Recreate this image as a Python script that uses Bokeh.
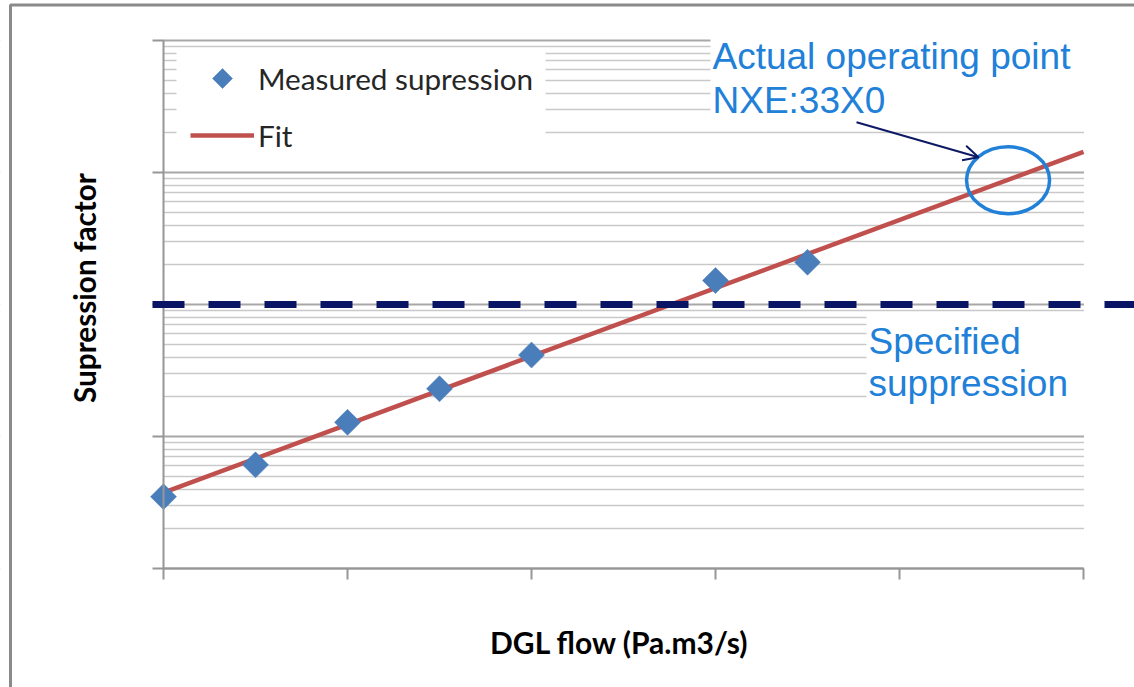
import math
from bokeh.plotting import figure
from bokeh.models import (ColumnDataSource, FixedTicker, Legend, LegendItem, Label,
                          Arrow, OpenHead, BoxAnnotation, Range1d)
from bokeh.embed import file_html
from bokeh.resources import INLINE

# ---------------- data ----------------
flow = [0, 0.5, 1, 1.5, 2, 3, 3.5]                    # DGL flow, tick units
suppression = [3.5, 6.1, 12.8, 23.0, 41.4, 152, 209]  # measured suppression factor
fit_flow = [0, 5]
fit_supp = [3.76, 1435]
spec_level = 100                                      # specified suppression
oper_flow = [4.59]                                    # actual operating point
oper_supp = [873]
x_ticks = [0, 1, 2, 3, 4, 5]
y_ticks = [1, 10, 100, 1000, 10000]
y_minor = [m * d for d in [1, 10, 100, 1000] for m in range(2, 10)]

# ---------------- geometry: the frame fills the whole canvas ----------------
W, H = 1134, 687
X0_PX, PX_PER_UNIT = 163, 184        # x=0 at page px 163, one tick unit = 184 px
Y0_PX, PX_PER_DEC = 568, 132         # y=1 at page px 568, one decade = 132 px

def xd(px):                          # page px -> x data
    return (px - X0_PX) / PX_PER_UNIT
def yd(py):                          # page px -> y data (log)
    return 10 ** ((Y0_PX - py) / PX_PER_DEC)
def sx(px):                          # page px -> frame screen units
    return px
def sy(py):
    return H - py

p = figure(width=W, height=H, output_backend="svg", toolbar_location=None,
           y_axis_type="log",
           x_range=Range1d(xd(0), xd(W)), y_range=Range1d(yd(H), yd(0)),
           min_border=0, min_border_left=0, min_border_right=0,
           min_border_top=0, min_border_bottom=0, title=None)
p.outline_line_color = None
p.background_fill_color = "white"
p.border_fill_color = "white"

# axes placed at fixed positions inside the frame
p.xaxis.fixed_location = 1
p.yaxis.fixed_location = 0
p.xaxis.bounds = (0, 5)
p.yaxis.bounds = (1, 10000)
for ax in (p.xaxis, p.yaxis):
    ax.axis_line_color = "#969696"
    ax.axis_line_width = 2
    ax.major_tick_line_color = "#969696"
    ax.major_tick_line_width = 2
    ax.major_tick_out = 11
    ax.major_tick_in = 0
    ax.minor_tick_line_color = None
    ax.major_label_text_color = None
    ax.major_label_text_font_size = "2px"
    ax.major_label_standoff = 0
p.xaxis.ticker = FixedTicker(ticks=x_ticks)
p.yaxis.ticker = FixedTicker(ticks=y_ticks, minor_ticks=y_minor)

# grids
p.xgrid.grid_line_color = None
p.ygrid.grid_line_color = "#a8a8a8"
p.ygrid.grid_line_width = 2
p.ygrid.minor_grid_line_color = "#c9c9c9"
p.ygrid.minor_grid_line_width = 1.5

# white cover boxes (hide grid lines outside the plot area and behind text blocks)
covers = [(-20, 162.5, -20, 720),      # left of the y axis
          (1083.5, 1160, -20, 720),    # right of the last tick
          (710, 1095, 33, 122),        # "Actual operating point" block
          (866, 1095, 313, 410),       # "Specified suppression" block
          (176, 545, 48, 169)]         # legend box
for (l, r, t, b) in covers:
    p.add_layout(BoxAnnotation(left=sx(l), right=sx(r), top=sy(t), bottom=sy(b),
                               left_units="screen", right_units="screen",
                               top_units="screen", bottom_units="screen",
                               fill_color="white", fill_alpha=1, line_color=None,
                               level="underlay"))

# fit line and points
fit_src = ColumnDataSource(dict(x=fit_flow, y=fit_supp))
pts_src = ColumnDataSource(dict(x=flow, y=suppression))
fit_r = p.line("x", "y", source=fit_src, line_color="#c0504d", line_width=4.5)
try:
    pts_r = p.ngon("x", "y", source=pts_src, radius=13, radius_units="screen", n=4,
                   fill_color="#4a7ebb", line_color="#4a7ebb", line_width=0.5)
except Exception:
    pts_r = p.scatter("x", "y", source=pts_src, marker="square", angle=math.pi / 4,
                      size=18.5, fill_color="#4a7ebb", line_color="#4a7ebb")

# specified suppression dashed line (runs from left of the axis to the page edge)
p.add_layout(Arrow(x_start=xd(152), y_start=spec_level, x_end=xd(W + 5), y_end=spec_level,
                   start=None, end=None, line_color="#0a1464", line_width=7,
                   line_dash="32 24"))

# operating point ellipse + arrow
p.ellipse(x=oper_flow, y=oper_supp, width=83, height=67, width_units="screen",
          height_units="screen", fill_color=None, line_color="#2180d8", line_width=3.5)
p.add_layout(Arrow(x_start=xd(856), y_start=yd(121.7), x_end=xd(978), y_end=yd(156.7),
                   line_color="#0d1a63", line_width=2,
                   end=OpenHead(size=15, line_color="#0d1a63", line_width=2)))

# texts
BLUE = "#2180d8"
for txt, px, py in [("Actual operating point", 712, 55.5), ("NXE:33X0", 712, 99.5),
                    ("Specified", 868, 341), ("suppression", 868, 383)]:
    p.add_layout(Label(x=sx(px), y=sy(py), x_units="screen", y_units="screen",
                       text=txt, text_font="Liberation Sans", text_font_size="37px",
                       text_color=BLUE, text_align="left", text_baseline="alphabetic"))

p.add_layout(Label(x=sx(619), y=sy(641), x_units="screen", y_units="screen",
                   text="DGL flow (Pa.m3/s)", text_font="Lato", text_font_style="bold",
                   text_font_size="30px", text_color="black", text_align="center",
                   text_baseline="alphabetic"))
p.add_layout(Label(x=sx(84), y=sy(287.5), x_units="screen", y_units="screen",
                   text="Supression factor", text_font="Lato", text_font_style="bold",
                   text_font_size="29.7px", text_color="black", text_align="center",
                   text_baseline="alphabetic", angle=math.pi / 2))

# legend
legend = Legend(items=[LegendItem(label="Measured supression", renderers=[pts_r]),
                       LegendItem(label="Fit", renderers=[fit_r])],
                location=(190, sy(160)), margin=0, padding=0, spacing=7,
                glyph_width=64, glyph_height=50, label_standoff=4,
                label_text_font="Lato", label_text_font_size="29.7px",
                label_text_color="#262626", background_fill_alpha=0,
                border_line_color=None)
p.add_layout(legend)

# outer border of the picture (top and left edges visible)
p.add_layout(BoxAnnotation(left=sx(10), right=sx(1150), top=sy(4.5), bottom=sy(720),
                           left_units="screen", right_units="screen",
                           top_units="screen", bottom_units="screen",
                           fill_alpha=0, line_color="#8a8a8a", line_alpha=1,
                           line_width=3))

open("out.html", "w").write(file_html(p, INLINE))
